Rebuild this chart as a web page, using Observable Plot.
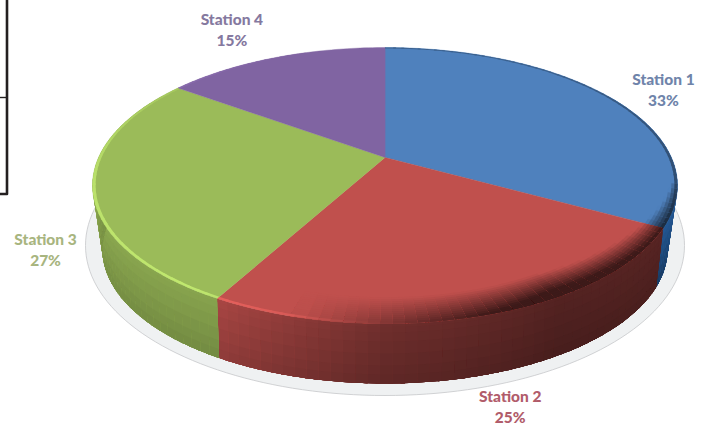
<!DOCTYPE html>
<html>
<head>
<meta charset="utf-8">
<script src="https://cdn.jsdelivr.net/npm/d3@7"></script>
<script src="https://cdn.jsdelivr.net/npm/@observablehq/plot@0.6"></script>
<style>
  html, body { margin: 0; padding: 0; background: #fff; overflow: hidden; }
  svg { display: block; }
</style>
</head>
<body>
<div id="chart"></div>
<script>
// Share of the total per station, clockwise from twelve o'clock.
const stations = ["Station 1", "Station 2", "Station 3", "Station 4"];
const shares = [33, 25, 27, 15];
const faceColors = ["#4f81bd", "#c0504d", "#9bbb59", "#8064a2"];
const labelColors = ["#6f84aa", "#b15c6a", "#a8b57f", "#85799f"];
// Label placement relative to the rim point at the middle of each slice.
const labelDx = [55, 26, -47, -43];
const labelDy = [-7.5, 90.5, 61, -28.7];
// Part of the surrounding box that sits at the left of the page.
const boxX = [0, 6.5, 6.5];
const boxY = [193.5, 193.5, 0];

// Perspective view of the disc: the hub is above the centre of the visible ellipse.
const topDisc = {cx: 384.5, hub: 157, a: 286.4, b: 132.3, k: 0.203};
const baseDisc = {cx: 384.5, hub: 218.2, a: 275, b: 126.9, k: 0.23};

const rad = d3.scaleLinear().domain([0, 360]).range([0, 2 * Math.PI]);
function project(disc, deg, r) {
  const u = r * Math.sin(rad(deg));
  const v = -r * Math.cos(rad(deg));
  const w = 1 - disc.k * v;
  return [disc.cx + disc.a * u / w, disc.hub + disc.b * v / w];
}
function wallPoint(deg, h) {
  const p = project(topDisc, deg, 1);
  const q = project(baseDisc, deg, 1);
  return [p[0] + (q[0] - p[0]) * h, p[1] + (q[1] - p[1]) * h];
}
function shade(color, f) {
  const c = d3.rgb(color);
  return d3.rgb(c.r * f, c.g * f, c.b * f).formatHex();
}

// Slice spans in degrees, accumulated from the shares.
const total = d3.sum(shares);
const ends = Array.from(d3.cumsum(shares), (s) => s / total * 360);
const slices = stations.map((name, i) => ({
  name, i, start: i ? ends[i - 1] : 0, end: ends[i], color: faceColors[i]
}));
function anglesOf(s, step) {
  const n = Math.ceil((s.end - s.start) / step);
  return d3.range(n + 1).map((j) => s.start + (s.end - s.start) * j / n);
}

// Flat top of each slice.
const faces = slices.flatMap((s) => {
  const rim = anglesOf(s, 1).map((deg) => project(topDisc, deg, 1));
  return [project(topDisc, 0, 0), ...rim].map(([x, y]) => ({x, y, id: s.name, c: s.color}));
});

// Shaded patches painted back to front: every patch runs on under its successors,
// so neighbouring tones meet without a hairline between them.
function patches(prefix, s, step, bands, corner, tone, limit) {
  const out = [];
  const as = anglesOf(s, step);
  const last = bands[bands.length - 1];
  for (let j = 0; j < as.length - 1; ++j) {
    const to = Math.min(as[j + 1] + step / 3, limit);
    for (let b = 0; b < bands.length - 1; ++b) {
      const id = `${prefix}-${s.i}-${j}-${b}`;
      const c = tone(s, (as[j] + as[j + 1]) / 2, (bands[b] + bands[b + 1]) / 2);
      if (!c) continue;
      const corners = [corner(as[j], bands[b]), corner(to, bands[b]), corner(to, last), corner(as[j], last)];
      for (const [x, y] of corners) out.push({x, y, id, c});
    }
  }
  return out;
}

// Brightness of the side wall around the front of the disc.
const wallTone = d3.scaleLinear()
  .domain([119, 150, 180, 208, 270, 320])
  .range([0.44, 0.42, 0.56, 0.84, 0.88, 0.9])
  .clamp(true);
const walls = slices.flatMap((s) => {
  if (s.end < 60 || s.start > 300) return [];
  const clipped = {...s, start: Math.max(s.start, 60), end: Math.min(s.end, 300)};
  return patches("wall", clipped, 2, [0, 0.06, 0.15, 0.3, 0.5, 0.7, 0.85, 1],
    wallPoint,
    (sl, deg, h) => sl.i === 0
      ? shade("#2b69b0", 0.85 - 0.3 * h)
      : shade(sl.color, wallTone(deg) * (1.04 - 0.16 * h)),
    300);
});

// Raised edge of the top face: lit at the lower left, in shadow at the lower right.
const bevelLight = d3.scaleLinear().domain([175, 215, 260, 300, 340]).range([0, 0.24, 0.2, 0.08, 0]).clamp(true);
const bevelDark = d3.scaleLinear().domain([40, 100, 125, 150, 175, 195]).range([0.25, 0.4, 0.5, 0.65, 0.3, 0]).clamp(true);
const bevelWidth = d3.scaleLinear().domain([100, 125, 150]).range([0.985, 0.92, 0.87]).clamp(true);
const bevels = slices.flatMap((s) =>
  patches("bevel", s, 2, d3.range(0.87, 1.0001, 0.01).map((r) => +r.toFixed(2)),
    (deg, r) => project(topDisc, deg, r),
    (sl, deg, r) => {
      const light = r > 0.985 ? bevelLight(deg) : 0;
      const from = bevelWidth(deg);
      const dark = r > from ? bevelDark(deg) * (r - from) / (1 - from) * 1.5 : 0;
      if (!light && !dark) return null;
      return shade(sl.color, (1 + light) * (1 - Math.min(dark, 0.68)));
    },
    s.end));

// Soft shadow on the floor below the disc.
const floorShadow = d3.range(0, 361, 2).map((deg) => ({
  x: 384.5 + 299.5 * Math.sin(rad(deg)),
  y: 245 - 150 * Math.cos(rad(deg))
}));

const labels = slices.map((s, i) => {
  const [x, y] = project(topDisc, (s.start + s.end) / 2, 1);
  return {x: x + labelDx[i], y: y + labelDy[i], text: `${s.name}\n${shares[i]}%`, c: labelColors[i]};
});

const box = boxX.map((x, i) => ({x, y: boxY[i]}));
const faceMark = (rows, strokeWidth) => Plot.line(rows, {
  x: "x", y: "y", z: "id", fill: "c",
  stroke: strokeWidth ? "c" : "none", strokeWidth, curve: "linear-closed"
});

const chart = Plot.plot({
  width: 705,
  height: 427,
  margin: 0,
  x: {domain: [0, 705], range: [0, 705], axis: null},
  y: {domain: [0, 427], range: [0, 427], axis: null},
  color: {type: "identity"},
  marks: [
    Plot.line(box, {x: "x", y: "y", stroke: "#231f20", strokeWidth: 2.6}),
    Plot.ruleY([97], {x1: 0, x2: 6, stroke: "#231f20", strokeWidth: 1.4}),
    Plot.line(floorShadow, {x: "x", y: "y", fill: "#eff1f2", stroke: "#c6c8ca", strokeWidth: 0.8, curve: "linear-closed"}),
    faceMark(walls, 0),
    faceMark(faces, 0.4),
    faceMark(bevels, 0),
    Plot.text(labels, {
      x: "x", y: "y", text: "text", fill: "c",
      fontFamily: "Lato", fontWeight: 900, fontSize: 15.5, lineHeight: 1.36,
      textAnchor: "middle"
    })
  ]
});
document.getElementById("chart").append(chart);
</script>
</body>
</html>
